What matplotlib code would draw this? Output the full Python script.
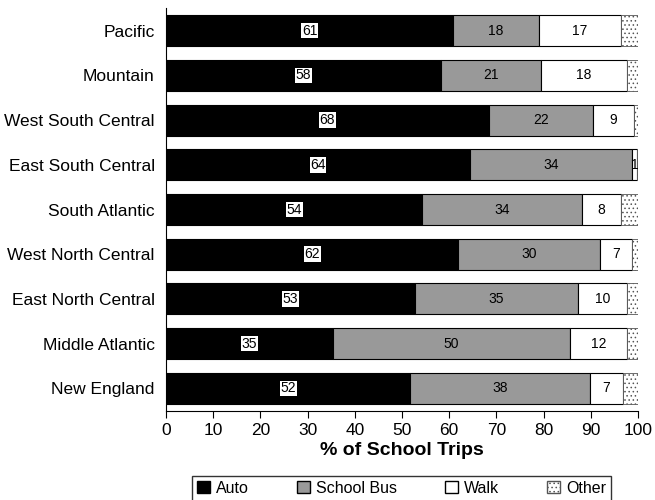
import matplotlib.pyplot as plt
from matplotlib.patches import Patch

plt.rcParams['font.family'] = ['Liberation Sans', 'DejaVu Sans']
plt.rcParams['hatch.linewidth'] = 0.6

regions = ['New England', 'Middle Atlantic', 'East North Central',
           'West North Central', 'South Atlantic', 'East South Central',
           'West South Central', 'Mountain', 'Pacific']
auto = [51.8, 35.3, 52.7, 61.9, 54.3, 64.4, 68.4, 58.3, 60.8]
school_bus = [38.0, 50.4, 34.6, 30.0, 33.9, 34.4, 22.0, 21.1, 18.2]
walk = [7.1, 11.9, 10.3, 6.9, 8.2, 1.0, 8.8, 18.2, 17.4]
other = [3.1, 2.4, 2.4, 1.2, 3.6, 0.2, 0.8, 2.4, 3.6]

auto_labels = [52, 35, 53, 62, 54, 64, 68, 58, 61]
bus_labels = [38, 50, 35, 30, 34, 34, 22, 21, 18]
walk_labels = [7, 12, 10, 7, 8, 1, 9, 18, 17]

fig = plt.figure(figsize=(6.55, 5), dpi=100)
ax = fig.add_axes([0.2534, 0.178, 0.7206, 0.806])

y = range(len(regions))
h = 0.7
left_bus = auto
left_walk = [a + b for a, b in zip(auto, school_bus)]
left_other = [a + b for a, b in zip(left_walk, walk)]

ax.barh(y, auto, h, color='black', edgecolor='black', linewidth=0.8)
ax.barh(y, school_bus, h, left=left_bus, color='#999999', edgecolor='black', linewidth=0.8)
ax.barh(y, walk, h, left=left_walk, color='white', edgecolor='black', linewidth=0.8)
ax.barh(y, other, h, left=left_other, color='white', edgecolor='#555555',
        linewidth=0.6, hatch='....')

for i in y:
    ax.text(auto[i] / 2, i, str(auto_labels[i]), ha='center', va='center', fontsize=10,
            bbox=dict(boxstyle='square,pad=0.05', fc='white', ec='none'))
    ax.text(left_bus[i] + school_bus[i] / 2, i, str(bus_labels[i]),
            ha='center', va='center', fontsize=10)
    ax.text(left_walk[i] + walk[i] / 2, i, str(walk_labels[i]),
            ha='center', va='center', fontsize=10)

ax.set_xlim(0, 100)
ax.set_ylim(-0.51, 8.51)
ax.set_yticks(list(y))
ax.set_yticklabels(regions, fontsize=12.5)
ax.tick_params(axis='y', length=0, pad=8)
ax.set_xticks(range(0, 101, 10))
ax.tick_params(axis='x', labelsize=12.5, length=5, direction='out')
ax.set_xlabel('% of School Trips', fontsize=14, fontweight='bold', labelpad=3)
for s in ['top', 'right']:
    ax.spines[s].set_visible(False)

handles = [Patch(fc='black', ec='black'),
           Patch(fc='#999999', ec='black'),
           Patch(fc='white', ec='black'),
           Patch(fc='white', ec='#555555', hatch='....')]
fig.legend(handles, ['Auto', 'School Bus', 'Walk', 'Other'], ncol=4,
           loc='upper center', bbox_to_anchor=(0.613, 0.048), fontsize=11.5,
           frameon=True, fancybox=False, edgecolor='black', handlelength=0.8,
           handleheight=0.8, handletextpad=0.4, columnspacing=3.0,
           borderpad=0.3, borderaxespad=0)

fig.savefig('out.png', dpi=100)
